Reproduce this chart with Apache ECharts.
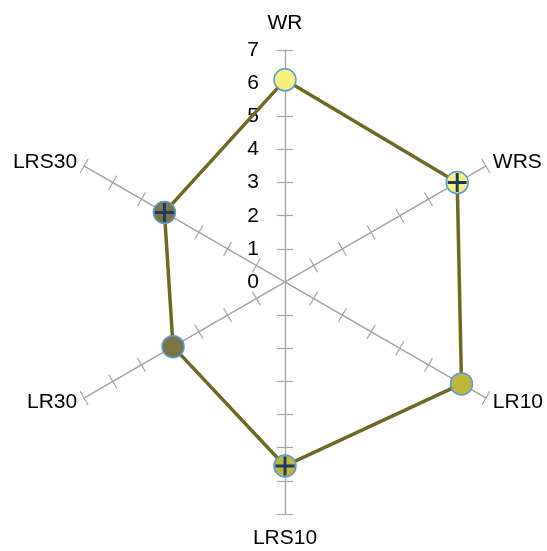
<!DOCTYPE html>
<html><head><meta charset="utf-8">
<script src="https://cdn.jsdelivr.net/npm/echarts@6/dist/echarts.min.js"></script>
<style>html,body{margin:0;padding:0;background:#fff}#c{width:547px;height:551px}</style>
</head><body><div id="c"></div>
<script>
// ---- data ----
const categories = ['WR', 'WRS', 'LR10', 'LRS10', 'LR30', 'LRS30'];
const values = [6.1, 6.0, 6.15, 5.55, 3.9, 4.2];
const tickLabels = [0, 1, 2, 3, 4, 5, 6, 7];
const axisMax = 7;

// ---- styles ----
const markerColors = ['#f6f17e', '#f6f17e', '#bdb73c', '#bdb73c', '#7b7542', '#7b7542'];
const hatched = [false, true, false, true, false, true];
const FONT = 'Liberation Sans, Arial, sans-serif';
const C = [285, 282];
const R = 232;

// ECharts radar runs counter-clockwise; reference runs clockwise
const order = [0, 5, 4, 3, 2, 1];
const tickVals = tickLabels.filter(v => v > 0);

function indicators(labels) {
  return order.map((i, k) => ({
    name: categories[i], max: axisMax, min: 0,
    axisLabel: { show: labels && k === 0 }
  }));
}

const baseRadar = {
  center: C, radius: R, startAngle: 90, splitNumber: 7, shape: 'polygon',
  splitLine: { show: false }, splitArea: { show: false }
};

const option = {
  animation: false,
  radar: [
    Object.assign({}, baseRadar, {
      indicator: indicators(true),
      axisLine: { lineStyle: { color: '#a6a6a6', width: 1.2 } },
      axisTick: { show: true, length: 8, customValues: tickVals, lineStyle: { color: '#a6a6a6', width: 1.2 } },
      axisLabel: { show: true, customValues: tickLabels, color: '#000', fontSize: 21, fontFamily: FONT, margin: 26 },
      axisNameGap: 8,
      nameGap: 8,
      axisName: {
        color: '#000', fontSize: 21, fontFamily: FONT,
        formatter: function (name) {
          if (name === 'WR') return '{t|' + name + '}';
          if (name === 'LRS10') return '{b|' + name + '}';
          return name;
        },
        rich: {
          t: { fontSize: 21, fontFamily: FONT, color: '#000', padding: [0, 0, 8, 0] },
          b: { fontSize: 21, fontFamily: FONT, color: '#000', padding: [6, 0, 0, 0] }
        }
      }
    }),
    Object.assign({}, baseRadar, {
      indicator: indicators(false),
      axisLine: { show: true, lineStyle: { color: '#a6a6a6', width: 1.2 } },
      axisTick: { show: true, length: -8, customValues: tickVals, lineStyle: { color: '#a6a6a6', width: 1.2 } },
      axisLabel: { show: false },
      axisName: { show: false }
    })
  ],
  polar: { center: C, radius: R },
  angleAxis: { type: 'category', data: categories, boundaryGap: false, startAngle: 90, clockwise: true, show: false },
  radiusAxis: { min: 0, max: axisMax, show: false },
  series: [
    {
      type: 'radar', radarIndex: 0, z: 2,
      symbol: 'none',
      lineStyle: { color: '#6e6a24', width: 3.5 },
      data: [{ value: order.map(i => values[i]) }]
    },
    {
      type: 'scatter', coordinateSystem: 'polar', z: 3,
      symbol: 'circle', symbolSize: 22,
      data: values.map((v, i) => ({
        value: [v, i],
        itemStyle: { color: markerColors[i], borderColor: '#5b9bd5', borderWidth: 1.5, opacity: 1 }
      }))
    },
    {
      type: 'scatter', coordinateSystem: 'polar', z: 4,
      symbol: 'path://M8,0h3v8h8v3h-8v8h-3v-8h-8v-3h8z', symbolSize: 19,
      itemStyle: { color: '#1f3864', opacity: 1 },
      data: values.map((v, i) => hatched[i] ? [v, i] : null).filter(d => d)
    }
  ]
};

echarts.init(document.getElementById('c'), null, { renderer: 'canvas' }).setOption(option);
</script>
</body></html>
